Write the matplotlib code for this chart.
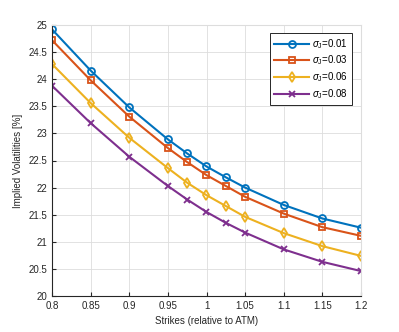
import numpy as np
import matplotlib
matplotlib.use("Agg")
import matplotlib.pyplot as plt

plt.rcParams['font.family'] = ['Liberation Sans', 'DejaVu Sans']
plt.rcParams['mathtext.fontset'] = 'custom'
plt.rcParams['mathtext.rm'] = 'Liberation Sans'
plt.rcParams['mathtext.it'] = 'Liberation Sans:italic'

strikes = [0.8, 0.85, 0.9, 0.95, 0.975, 1.0, 1.025, 1.05, 1.1, 1.15, 1.2]
vol_001 = [24.92, 24.16, 23.48, 22.89, 22.63, 22.39, 22.19, 22.00, 21.68, 21.43, 21.26]
vol_003 = [24.72, 23.98, 23.31, 22.73, 22.47, 22.23, 22.03, 21.83, 21.52, 21.27, 21.11]
vol_006 = [24.28, 23.56, 22.92, 22.36, 22.09, 21.86, 21.66, 21.46, 21.16, 20.92, 20.74]
vol_008 = [23.88, 23.19, 22.57, 22.03, 21.78, 21.55, 21.35, 21.17, 20.86, 20.63, 20.46]
labels = [r'$\sigma_{\rm J}$=0.01', r'$\sigma_{\rm J}$=0.03',
          r'$\sigma_{\rm J}$=0.06', r'$\sigma_{\rm J}$=0.08']

colors = ['#0072BD', '#D95319', '#EDB120', '#7E2F8E']
markers = ['o', 's', 'd', 'x']

fig = plt.figure(figsize=(3.99, 3.32), dpi=100)
ax = fig.add_axes([52/399, 1 - 296/332, (361-52)/399, (296-25)/332])

for vals, c, m, lab in zip([vol_001, vol_003, vol_006, vol_008], colors, markers, labels):
    ax.plot(strikes, vals, color=c, marker=m, lw=1.5, ms=5,
            mfc='none', mew=1.3, label=lab)

ax.set_xlim(0.8, 1.2)
ax.set_ylim(20, 25)
ax.set_xticks(np.arange(0.8, 1.2001, 0.05))
ax.set_xticklabels(['0.8', '0.85', '0.9', '0.95', '1', '1.05', '1.1', '1.15', '1.2'])
ax.set_yticks(np.arange(20, 25.001, 0.5))
ax.set_yticklabels(['20', '20.5', '21', '21.5', '22', '22.5', '23', '23.5', '24', '24.5', '25'])
ax.grid(True, color='#dddddd', lw=0.6)
ax.set_axisbelow(True)
for s in ['top', 'right']:
    ax.spines[s].set_color('#dddddd')
for s in ['left', 'bottom']:
    ax.spines[s].set_color('#262626')
ax.tick_params(direction='in', labelsize=7, colors='#262626', length=3,
               top=False, right=False)
ax.set_xlabel('Strikes (relative to ATM)', fontsize=7, color='#262626')
ax.set_ylabel('Implied Volatilities [%]', fontsize=7, color='#262626')

leg = ax.legend(loc='upper right', fontsize=7, fancybox=False, framealpha=1,
                edgecolor='#262626', bbox_to_anchor=(0.972, 0.972),
                borderaxespad=0, handlelength=3.6, handletextpad=0.3,
                borderpad=0.45, labelspacing=0.3)
leg.get_frame().set_linewidth(0.7)

fig.savefig('out.png', dpi=100)
